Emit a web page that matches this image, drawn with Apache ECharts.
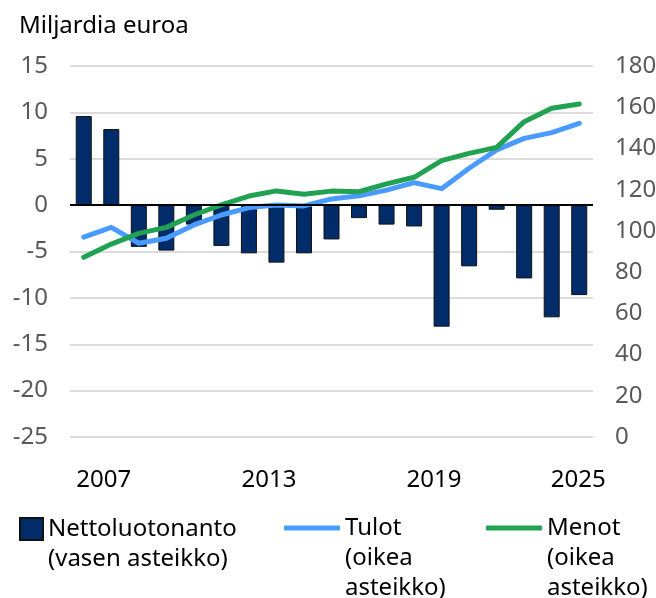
<!DOCTYPE html>
<html>
<head>
<meta charset="utf-8">
<script src="https://cdn.jsdelivr.net/npm/echarts@6/dist/echarts.min.js"></script>
<style>
    html, body { margin: 0; padding: 0; background: #fff; }
    #chart { width: 656px; height: 598px; }
</style>
</head>
<body>
<div id="chart"></div>
<script>
// 年份
var years = ['2007', '2008', '2009', '2010', '2011', '2012', '2013', '2014', '2015', '2016',
    '2017', '2018', '2019', '2020', '2021', '2022', '2023', '2024', '2025'];
// Nettoluotonanto, vasen asteikko (mrd. euroa)
var netto = [9.6, 8.2, -4.5, -4.9, -2.1, -4.4, -5.2, -6.2, -5.2, -3.7,
    -1.4, -2.1, -2.3, -13.1, -6.6, -0.5, -7.9, -12.1, -9.7];
// Tulot, oikea asteikko
var tulot = [97, 101.7, 94, 96.4, 102.9, 107.7, 111.3, 112.6, 112.1, 115.5,
    117, 119.8, 123.4, 120.5, 130.4, 139.3, 144.9, 147.7, 152.2];
// Menot, oikea asteikko
var menot = [87.2, 93.6, 98.8, 101.7, 107.7, 112.6, 116.9, 119.4, 117.8, 119.3,
    119, 122.8, 126, 134.1, 137.6, 140.5, 153, 159.5, 161.6];

var font = 'Noto Sans';
var grey = '#595959';

var myChart = echarts.init(document.getElementById('chart'));

// legendin teksti: tyhjät rivit alkuun, jotta ensimmäinen oikea rivi osuu kuvakkeen kohdalle
function legendLabel(lines) {
    return function () {
        var pad = '';
        for (var i = 1; i < lines.length; i++) pad += ' \n';
        return pad + lines.join('\n');
    };
}
var legendTextStyle = { color: '#000', fontFamily: font, fontSize: 24, lineHeight: 30 };

var option = {
    animation: false,
    title: {
        text: 'Miljardia euroa',
        left: 14,
        top: 9,
        textStyle: { color: '#000', fontFamily: font, fontSize: 24, fontWeight: 'normal' }
    },
    grid: {
        left: 70,
        right: 63,
        top: 66,
        bottom: 161,
        outerBoundsMode: 'none'
    },
    legend: [{
        left: 19,
        top: 484,
        padding: 0,
        itemWidth: 23,
        itemHeight: 22,
        icon: 'rect',
        data: ['Nettoluotonanto'],
        formatter: legendLabel(['Nettoluotonanto', '(vasen asteikko)']),
        textStyle: legendTextStyle
    }, {
        left: 284,
        top: 453,
        padding: 0,
        itemWidth: 56,
        itemHeight: 5,
        icon: 'roundRect',
        data: ['Tulot'],
        formatter: legendLabel(['Tulot', '(oikea', 'asteikko)']),
        textStyle: legendTextStyle
    }, {
        left: 486,
        top: 453,
        padding: 0,
        itemWidth: 56,
        itemHeight: 5,
        icon: 'roundRect',
        data: ['Menot'],
        formatter: legendLabel(['Menot', '(oikea', 'asteikko)']),
        textStyle: legendTextStyle
    }],
    xAxis: {
        type: 'category',
        data: years,
        axisLine: { show: false },
        axisTick: { show: false },
        axisLabel: {
            interval: 5,
            margin: 31,
            formatter: function (v) {
                return v === '2025' ? '{e|' + v + '}' : '{s|' + v + '}';
            },
            rich: {
                s: { color: '#000', fontFamily: font, fontSize: 24, lineHeight: 24, padding: [0, 0, 0, 40] },
                e: { color: '#000', fontFamily: font, fontSize: 24, lineHeight: 24, padding: [0, 2, 0, 0] }
            }
        }
    },
    yAxis: [{
        type: 'value',
        min: -25,
        max: 15,
        interval: 5,
        axisLine: { show: false },
        axisTick: { show: false },
        axisLabel: { color: grey, fontFamily: font, fontSize: 24, margin: 22 },
        splitLine: { lineStyle: { color: '#dcdcdc', width: 2 } }
    }, {
        type: 'value',
        min: 0,
        max: 180,
        interval: 20,
        position: 'right',
        axisLine: { show: false },
        axisTick: { show: false },
        axisLabel: { color: grey, fontFamily: font, fontSize: 24, margin: 22 },
        splitLine: { show: false }
    }],
    series: [{
        name: 'Nettoluotonanto',
        type: 'bar',
        yAxisIndex: 0,
        barWidth: 16,
        itemStyle: { color: '#002d6a', borderColor: '#111', borderWidth: 1 },
        data: netto,
        // nollaviiva
        markLine: {
            silent: true,
            symbol: 'none',
            label: { show: false },
            lineStyle: { color: '#000', width: 2, type: 'solid' },
            data: [{ yAxis: 0 }]
        }
    }, {
        name: 'Tulot',
        type: 'line',
        yAxisIndex: 1,
        symbol: 'none',
        lineStyle: { color: '#4a9bff', width: 5, cap: 'round', join: 'round' },
        itemStyle: { color: '#4a9bff' },
        data: tulot
    }, {
        name: 'Menot',
        type: 'line',
        yAxisIndex: 1,
        symbol: 'none',
        lineStyle: { color: '#21a152', width: 5, cap: 'round', join: 'round' },
        itemStyle: { color: '#21a152' },
        data: menot
    }]
};

myChart.setOption(option);
</script>
</body>
</html>
